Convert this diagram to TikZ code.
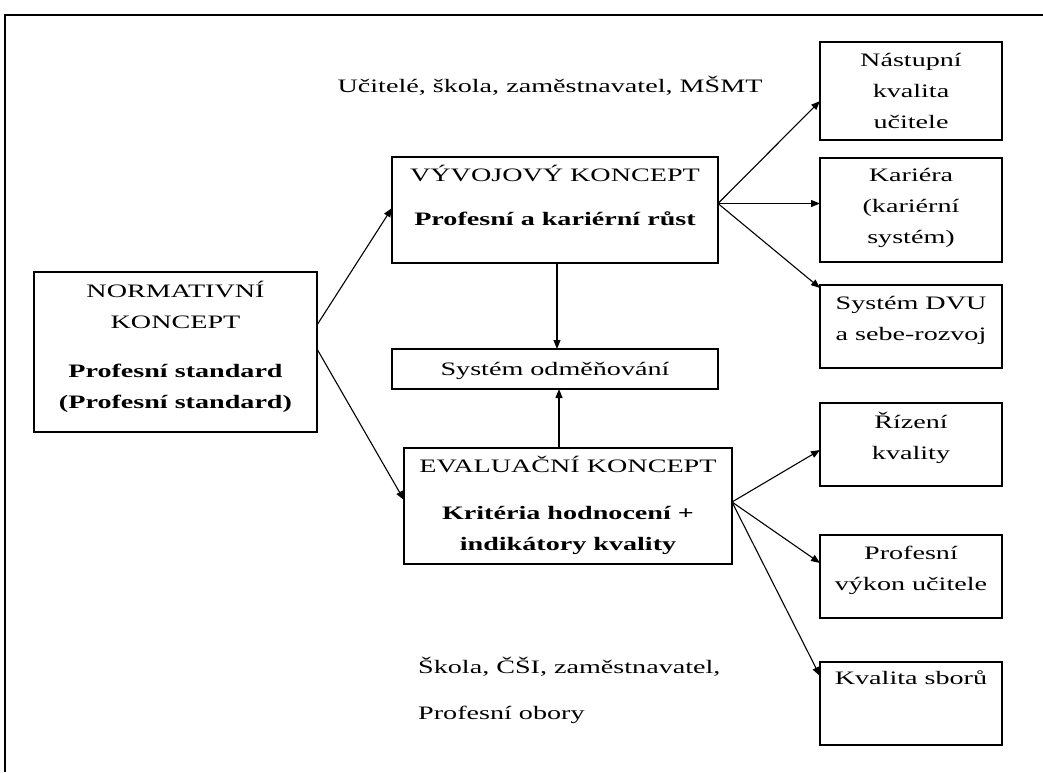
\documentclass[tikz,border=0pt]{standalone}
\usepackage{fontspec}
\setmainfont{Liberation Serif}[FakeStretch=1.48]
\usetikzlibrary{arrows.meta,calc}
\begin{document}
\begin{tikzpicture}[x=1pt,y=-1pt,
  box/.style={draw, line width=1.2pt, inner sep=0pt, outer sep=0pt, anchor=north west},
  txt/.style={inner sep=0pt, align=center, font=\fontsize{19}{31}\selectfont, anchor=base},
  ltxt/.style={inner sep=0pt, font=\fontsize{19}{31}\selectfont, anchor=base west},
  arr/.style={line width=1.1pt, -{Triangle[length=9pt,width=7pt]}}]
\useasboundingbox (0,0) rectangle (1043,772);
% outer frame (top and left edges)
\draw[line width=1.4pt] (5,772) -- (5,15) -- (1043,15);

% boxes
\node[box, minimum width=283pt, minimum height=160pt] (norm) at (34,272) {};
\node[box, minimum width=326pt, minimum height=106pt] (vyv) at (392,157) {};
\node[box, minimum width=326pt, minimum height=40pt] (sys) at (392,349) {};
\node[box, minimum width=328pt, minimum height=116pt] (eval) at (404,448) {};
\node[box, minimum width=182pt, minimum height=98pt] (nast) at (820,42) {};
\node[box, minimum width=182pt, minimum height=104pt] (kar) at (820,158) {};
\node[box, minimum width=182pt, minimum height=83pt] (dvu) at (820,285) {};
\node[box, minimum width=182pt, minimum height=83pt] (riz) at (820,403) {};
\node[box, minimum width=182pt, minimum height=83pt] (prof) at (820,535) {};
\node[box, minimum width=182pt, minimum height=83pt] (kval) at (820,662) {};

% texts (multi-line nodes are placed by the baseline of their last line)
\node[txt] (actorsTop) at (550,92) {Učitelé, škola, zaměstnavatel, MŠMT};
\node[txt] (normT) at (175.5,408) {NORMATIVNÍ\\KONCEPT\\[18pt]\textbf{Profesní standard}\\\textbf{(Profesní standard)}};
\node[txt] (vyvT) at (555,225) {VÝVOJOVÝ KONCEPT\\[13pt]\textbf{Profesní a kariérní růst}};
\node[txt] (sysT) at (555,375) {Systém odměňování};
\node[txt] (evalT) at (568,550) {EVALUAČNÍ KONCEPT\\[16pt]\textbf{Kritéria hodnocení +}\\\textbf{indikátory kvality}};
\node[txt] (nastT) at (911,128) {Nástupní\\kvalita\\učitele};
\node[txt] (karT) at (911,243) {Kariéra\\(kariérní\\systém)};
\node[txt] (dvuT) at (911,340) {Systém DVU\\a sebe-rozvoj};
\node[txt] (rizT) at (911,459) {Řízení\\kvality};
\node[txt] (profT) at (911,590) {Profesní\\výkon učitele};
\node[txt] (kvalT) at (911,684) {Kvalita sborů};
\node[ltxt] (actorsBot) at (418,673) {Škola, ČŠI, zaměstnavatel,};
\node[ltxt] (obory) at (418,719) {Profesní obory};

% connectors
\draw[arr] ([yshift=27pt]norm.east) -- ([yshift=2pt]vyv.west);
\draw[arr] ([yshift=3pt]norm.east) -- ([yshift=6pt]eval.west);
\draw[arr] ([xshift=2pt]vyv.south) -- ([xshift=2pt]vyv.south |- sys.north);
\draw[arr] ([xshift=-9pt]eval.north) -- ([xshift=-9pt]eval.north |- sys.south);

\coordinate (vyvF) at ([yshift=6.5pt]vyv.east);
\draw[arr] (vyvF) -- ([yshift=-10pt]nast.west);
\draw[arr] (vyvF) -- (vyvF -| kar.west);
\draw[arr] (vyvF) -- ([yshift=-3pt]dvu.north west);

\coordinate (evalF) at ([yshift=4pt]eval.east);
\draw[arr] (evalF) -- ([yshift=-5.5pt]riz.west);
\draw[arr] (evalF) -- ([yshift=13.5pt]prof.west);
\draw[arr] (evalF) -- ([yshift=-14pt]kval.north west);
\end{tikzpicture}
\end{document}
